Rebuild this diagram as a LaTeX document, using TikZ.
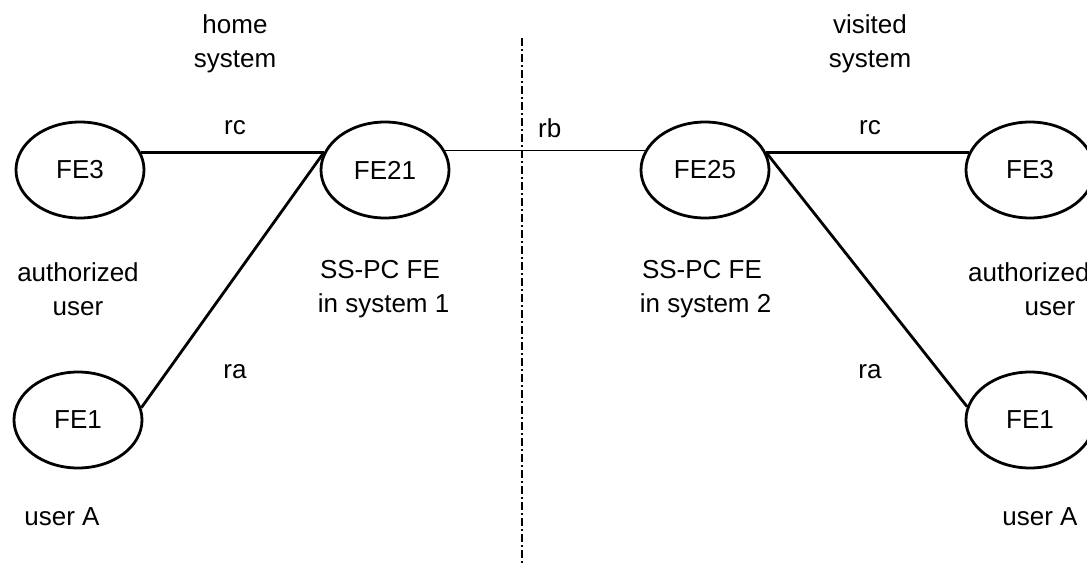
\documentclass[tikz,border=0pt]{standalone}
\usepackage{fontspec}
\setmainfont{Liberation Sans}
\usetikzlibrary{shapes.geometric}
\begin{document}
\begin{tikzpicture}[x=1pt,y=-1pt,
  fe/.style={draw,ellipse,line width=2.8pt,minimum width=128pt,minimum height=96pt,inner sep=0pt},
  lbl/.style={font=\fontsize{26}{34}\selectfont,align=center,inner sep=0pt},
  thickline/.style={line width=2.8pt},
  thinline/.style={line width=1.2pt},
  divider/.style={line width=2.6pt,dash pattern=on 8pt off 3pt on 2pt off 3pt}]
\useasboundingbox (0,0) rectangle (1087,563);
% ellipses
\node[fe,lbl] (fe3l) at (80,170) {FE3};
\node[fe,lbl] (fe21) at (385,170) {FE21};
\node[fe,lbl] (fe25) at (705,170) {FE25};
\node[fe,lbl] (fe3r) at (1030,170) {FE3};
\node[fe,lbl] (fe1l) at (78,420) {FE1};
\node[fe,lbl] (fe1r) at (1030,420) {FE1};
% connectors
\draw[thickline] (fe3l.16) -- (fe21.164);
\draw[thickline] (fe21.164) -- (fe1l.11);
\draw[thinline] (fe21.18) -- (fe25.162);
\draw[thickline] (fe25.16) -- (fe3r.164);
\draw[thickline] (fe25.16) -- (fe1r.168);
% divider
\coordinate (dtop) at (522,38);
\coordinate (dbot) at (522,563);
\draw[divider] (dtop) -- (dbot);
% labels
\node[lbl] (home) at (235,44) {home\\system};
\node[lbl] (visited) at (870,44) {visited\\system};
\node[lbl] (rcl) at (235,128) {rc};
\node[lbl,anchor=west] (rb) at (538,128) {rb};
\node[lbl] (rcr) at (870,128) {rc};
\node[lbl] (authl) at (78,289) {authorized\\user};
\node[lbl] (ss1) at (380,289) {SS-PC FE\\\ in system 1};
\node[lbl] (ss2) at (702,289) {SS-PC FE\\\ in system 2};
\node[lbl,anchor=base west] (authr) at (968,281) {authorized};
\node[lbl,anchor=base] (authru) at (1050,315) {user};
\node[lbl] (ral) at (235,372) {ra};
\node[lbl] (rar) at (870,372) {ra};
\node[lbl] (usral) at (62,517) {user A};
\node[lbl] (usrar) at (1040,517) {user A};
\end{tikzpicture}
\end{document}
